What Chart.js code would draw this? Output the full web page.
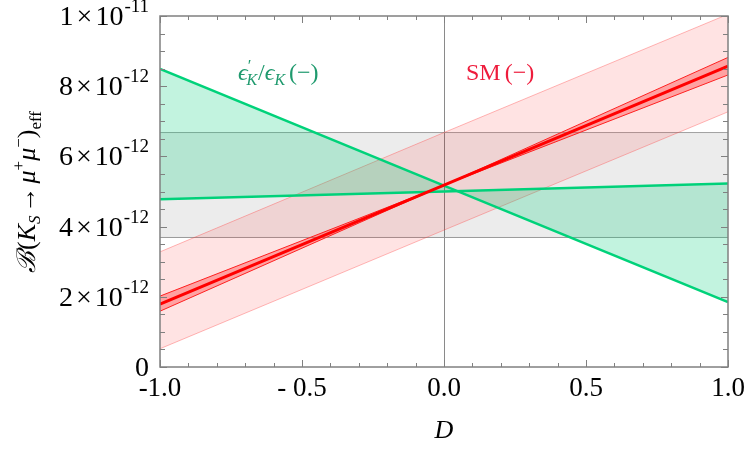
<!DOCTYPE html>
<html>
<head>
<meta charset="UTF-8">
<title>B(KS -> mu mu) vs D</title>
<script src="https://cdn.jsdelivr.net/npm/chart.js"></script>
<style>
  html, body { margin: 0; padding: 0; background: #fff; }
  #wrap { width: 750px; height: 450px; }
</style>
</head>
<body>
<div id="wrap"><canvas id="chart" width="750" height="450"></canvas></div>
<script>
// values in units of 1e-12
const D = [-1, 0, 1];
const bandLo = [3.69, 3.69, 3.69];
const bandHi = [6.68, 6.68, 6.68];
const smCentral = [1.79, 5.18, 8.57];
const smInnerUp = [2.02, 5.18, 8.82];
const smInnerLo = [1.59, 5.18, 8.32];
const smOuterUp = [3.28, 6.68, 10.05];
const smOuterLo = [0.52, 3.90, 7.27];
const epsFlat = [4.78, 5.00, 5.23];
const epsDown = [8.49, 5.17, 1.85];

const xTickVals = [-1, -0.5, 0, 0.5, 1];
const xTickLabels = ['-1.0', '- 0.5', '0.0', '0.5', '1.0'];
const yTickVals = [0, 2, 4, 6, 8, 10];
const yTickMant = ['0', '2', '4', '6', '8', '1'];
const yTickExp = ['', '-12', '-12', '-12', '-12', '-11'];

const pts = arr => D.map((x, i) => ({ x: x, y: arr[i] }));
const SERIF = '"Liberation Serif", "DejaVu Serif", serif';

function line(data, color, width, fill, bg, order) {
    return {
        data: pts(data), borderColor: color, borderWidth: width,
        backgroundColor: bg || 'transparent', fill: fill === undefined ? false : fill,
        pointRadius: 0, tension: 0, order: order
    };
}

// draw a run of text pieces, returns width
function run(ctx, x, y, pieces, measureOnly) {
    let cx = x;
    pieces.forEach(p => {
        ctx.font = p.f;
        if (!measureOnly) ctx.fillText(p.t, cx, y + (p.dy || 0));
        cx += ctx.measureText(p.t).width + (p.gap || 0);
    });
    return cx - x;
}

const decor = {
    id: 'decor',
    afterDraw(chart) {
        const ctx = chart.ctx, a = chart.chartArea;
        const xs = chart.scales.x, ys = chart.scales.y;
        ctx.save();
        // frame
        ctx.strokeStyle = '#808080';
        ctx.lineWidth = 1.5;
        ctx.strokeRect(a.left, a.top, a.right - a.left, a.bottom - a.top);
        // x ticks every 0.1
        ctx.lineWidth = 1;
        for (let i = -10; i <= 10; i++) {
            const px = Math.round(xs.getPixelForValue(i / 10)) + 0.5;
            const len = (i % 5 === 0) ? 7 : 4;
            ctx.beginPath();
            ctx.moveTo(px, a.bottom); ctx.lineTo(px, a.bottom - len);
            ctx.moveTo(px, a.top); ctx.lineTo(px, a.top + len);
            ctx.stroke();
        }
        // y ticks every 0.5
        for (let i = 0; i <= 20; i++) {
            const py = Math.round(ys.getPixelForValue(i / 2)) + 0.5;
            const len = (i % 4 === 0) ? 7 : 5;
            ctx.beginPath();
            ctx.moveTo(a.left, py); ctx.lineTo(a.left + len, py);
            ctx.moveTo(a.right, py); ctx.lineTo(a.right - len, py);
            ctx.stroke();
        }
        // x labels
        ctx.fillStyle = '#000';
        ctx.textBaseline = 'alphabetic';
        ctx.font = '27px ' + SERIF;
        ctx.textAlign = 'center';
        xTickVals.forEach((v, i) => {
            ctx.fillText(xTickLabels[i], xs.getPixelForValue(v), 396);
        });
        // y labels
        ctx.textAlign = 'left';
        yTickVals.forEach((v, i) => {
            const py = ys.getPixelForValue(v) + 9;
            let pieces;
            if (yTickExp[i] === '') {
                pieces = [{ t: yTickMant[i], f: '28px ' + SERIF }];
            } else {
                pieces = [
                    { t: yTickMant[i], f: '28px ' + SERIF, gap: 3 },
                    { t: '\u00d7', f: '28px ' + SERIF, gap: 3 },
                    { t: '10', f: '28px ' + SERIF, gap: 1 },
                    { t: yTickExp[i], f: '19px ' + SERIF, dy: -13 }
                ];
            }
            const w = run(ctx, 0, 0, pieces, true);
            run(ctx, 149 - w, py, pieces);
        });
        // x title
        ctx.font = 'italic 26px ' + SERIF;
        ctx.textAlign = 'center';
        ctx.fillText('D', 444, 438);
        ctx.textAlign = 'left';
        // y title
        const big = '26px ' + SERIF, bigI = 'italic 26px ' + SERIF;
        const sm = '17px ' + SERIF, smI = 'italic 17px ' + SERIF;
        const yt = [
            { t: '\u212C', f: bigI, gap: 1 },
            { t: '(', f: big },
            { t: 'K', f: bigI },
            { t: 'S', f: smI, dy: 5, gap: 3 },
            { t: '\u2192', f: big, gap: 3 },
            { t: '\u03bc', f: bigI },
            { t: '+', f: sm, dy: -11 },
            { t: '\u03bc', f: bigI },
            { t: '\u2212', f: sm, dy: -11 },
            { t: ')', f: big },
            { t: 'eff', f: sm, dy: 6 }
        ];
        const tw = run(ctx, 0, 0, yt, true);
        ctx.save();
        ctx.translate(35, 192);
        ctx.rotate(-Math.PI / 2);
        run(ctx, -tw / 2, 0, yt);
        ctx.restore();
        // curve labels
        const lab = '24px ' + SERIF, labI = 'italic 24px ' + SERIF;
        const labS = 'italic 16px ' + SERIF;
        ctx.fillStyle = '#1f9a6e';
        run(ctx, 238, 80, [
            { t: '\u03f5', f: labI },
            { t: '\u2032', f: '17px ' + SERIF, dy: -9, gap: -5 },
            { t: 'K', f: labS, dy: 5, gap: 1 },
            { t: '/', f: lab },
            { t: '\u03f5', f: labI },
            { t: 'K', f: labS, dy: 5, gap: 4 },
            { t: '(\u2212)', f: lab }
        ]);
        ctx.fillStyle = '#ee1c3c';
        run(ctx, 466, 80, [
            { t: 'SM', f: lab, gap: 4 },
            { t: '(\u2212)', f: lab }
        ]);
        ctx.restore();
    }
};

const zeroLine = {
    id: 'zeroLine',
    beforeDatasetsDraw(chart) {
        const ctx = chart.ctx, a = chart.chartArea;
        const px = Math.round(chart.scales.x.getPixelForValue(0)) + 0.5;
        ctx.save();
        ctx.strokeStyle = '#8a8a8a';
        ctx.lineWidth = 1;
        ctx.beginPath();
        ctx.moveTo(px, a.top); ctx.lineTo(px, a.bottom);
        ctx.stroke();
        ctx.restore();
    }
};

new Chart(document.getElementById('chart'), {
    type: 'line',
    data: {
        datasets: [
            line(bandLo, '#a0a0a0', 1, false, null, 20),
            line(bandHi, '#a0a0a0', 1, 0, 'rgba(0,0,0,0.075)', 19),
            line(epsFlat, '#00d27a', 2.5, false, null, 10),
            line(epsDown, '#00d27a', 2.5, 2, 'rgba(0,205,120,0.24)', 9),
            line(smOuterLo, 'rgba(255,60,60,0.45)', 0.8, false, null, 16),
            line(smOuterUp, 'rgba(255,60,60,0.45)', 0.8, 4, 'rgba(255,40,40,0.13)', 15),
            line(smInnerLo, '#ff2020', 1, false, null, 6),
            line(smInnerUp, '#ff2020', 1, 6, 'rgba(255,40,40,0.35)', 5),
            line(smCentral, '#ff0000', 3, false, null, 1)
        ]
    },
    options: {
        responsive: false,
        animation: false,
        layout: { padding: { left: 160, right: 22, top: 16, bottom: 83 } },
        plugins: { legend: { display: false }, tooltip: { enabled: false } },
        scales: {
            x: { type: 'linear', min: -1, max: 1, display: false },
            y: { type: 'linear', min: 0, max: 10, display: false }
        }
    },
    plugins: [zeroLine, decor]
});
</script>
</body>
</html>
